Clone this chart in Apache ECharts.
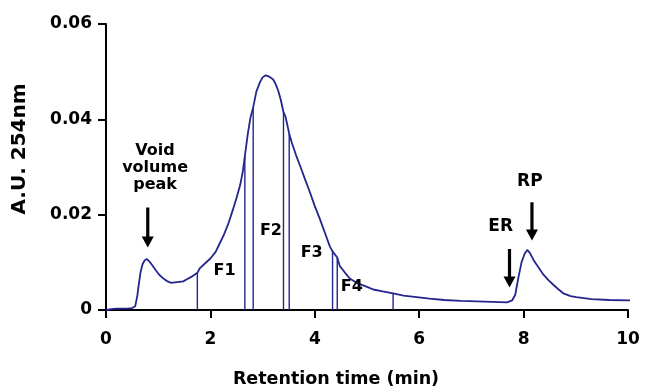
<!DOCTYPE html>
<html>
<head>
<meta charset="utf-8">
<script src="https://cdn.jsdelivr.net/npm/echarts@6/dist/echarts.min.js"></script>
<style>html,body{margin:0;padding:0;background:#fff;}#c{width:648px;height:390px;}</style>
</head>
<body>
<div id="c"></div>
<script>
// Retention time (min)
const timeMin = [0.00,0.10,0.20,0.30,0.40,0.50,0.56,0.60,0.63,0.66,0.70,0.74,0.78,0.82,0.88,0.95,1.02,1.10,1.18,1.25,1.32,1.40,1.48,1.56,1.64,1.75,1.80,1.90,2.00,2.10,2.18,2.26,2.34,2.43,2.50,2.57,2.62,2.66,2.72,2.77,2.82,2.88,2.95,3.00,3.05,3.12,3.20,3.25,3.30,3.35,3.40,3.44,3.51,3.56,3.64,3.72,3.81,3.91,4.00,4.10,4.20,4.29,4.34,4.43,4.48,4.58,4.67,4.80,4.99,5.12,5.30,5.50,5.70,5.95,6.20,6.48,6.80,7.11,7.40,7.68,7.78,7.84,7.90,7.96,8.02,8.07,8.12,8.19,8.28,8.38,8.48,8.57,8.66,8.76,8.90,9.01,9.30,9.64,10.00,10.38];
// Absorbance (A.U. 254 nm)
const absorbance = [0.0000,0.0002,0.0003,0.0003,0.0003,0.0004,0.0008,0.0030,0.0055,0.0078,0.0096,0.0104,0.0107,0.0103,0.0095,0.0084,0.0074,0.0066,0.0060,0.0057,0.0058,0.0059,0.0060,0.0065,0.0070,0.0078,0.0088,0.0098,0.0108,0.0122,0.0140,0.0158,0.0180,0.0210,0.0235,0.0262,0.0290,0.0323,0.0372,0.0405,0.0425,0.0458,0.0478,0.0488,0.0492,0.0490,0.0484,0.0474,0.0460,0.0440,0.0415,0.0405,0.0370,0.0351,0.0325,0.0302,0.0275,0.0246,0.0218,0.0190,0.0160,0.0133,0.0123,0.0110,0.0092,0.0078,0.0066,0.0057,0.0049,0.0043,0.0039,0.0035,0.0030,0.0027,0.0024,0.0021,0.0019,0.0018,0.0017,0.0016,0.0020,0.0032,0.0068,0.0100,0.0118,0.0126,0.0120,0.0105,0.0090,0.0074,0.0062,0.0053,0.0044,0.0035,0.0029,0.0027,0.0023,0.0021,0.0020,0.0021];
// Fraction cut times and the curve height at each cut
const cutTimes = [1.75,2.66,2.82,3.40,3.51,4.34,4.43,5.50];
const cutHeights = [0.0078,0.0323,0.0425,0.0415,0.0370,0.0123,0.0110,0.0035];
// Annotation labels
const labelTexts = ['Void\nvolume\npeak','F1','F2','F3','F4','ER','RP'];
const labelX = [0.94,2.27,3.16,3.94,4.71,7.56,8.12];
const labelY = [0.0299,0.0083,0.0167,0.0119,0.0048,0.0175,0.0270];
// Arrows: time, top, tip
const arrowX = [0.80,7.73,8.16];
const arrowTop = [0.0215,0.0128,0.0226];
const arrowTip = [0.0131,0.0047,0.0146];
// Axis ticks
const xTicks = [0,2,4,6,8,10];
const yTicks = [0,0.02,0.04,0.06];

const FONT = '"DejaVu Sans", "Liberation Sans", Arial, sans-serif';
const BLUE = '#25258f';

const chart = echarts.init(document.getElementById('c'), null, {renderer: 'canvas'});
const curve = timeMin.map((t, i) => [t, absorbance[i]]);
const cuts = cutTimes.map((t, i) => [t, cutHeights[i]]);
const labels = labelTexts.map((s, i) => [labelX[i], labelY[i], s]);
const arrows = arrowX.map((t, i) => [t, arrowTop[i], arrowTip[i]]);

chart.setOption({
  animation: false,
  backgroundColor: '#fff',
  grid: {left: 106, right: 20, top: 24, bottom: 80, containLabel: false},
  xAxis: {
    type: 'value', min: xTicks[0], max: xTicks[xTicks.length - 1], interval: 2,
    axisLine: {lineStyle: {color: '#000', width: 2}},
    axisTick: {length: 8, lineStyle: {color: '#000', width: 2}},
    axisLabel: {margin: 21, color: '#000', fontSize: 17, fontWeight: 'bold', fontFamily: FONT},
    splitLine: {show: false}
  },
  yAxis: {
    type: 'value', min: yTicks[0], max: yTicks[yTicks.length - 1], interval: 0.02,
    axisLine: {show: true, lineStyle: {color: '#000', width: 2}},
    axisTick: {show: true, length: 8, lineStyle: {color: '#000', width: 2}},
    axisLabel: {margin: 14, color: '#000', fontSize: 17, fontWeight: 'bold', fontFamily: FONT,
      formatter: v => v === 0 ? '0' : v.toFixed(2)},
    splitLine: {show: false}
  },
  graphic: [
    {type: 'text', x: 20, y: 149, rotation: Math.PI / 2,
      style: {text: 'A.U. 254nm', fill: '#000', font: 'bold 20px ' + FONT, align: 'center', verticalAlign: 'middle'}},
    {type: 'text', x: 336, y: 379,
      style: {text: 'Retention time (min)', fill: '#000', font: 'bold 17.5px ' + FONT, align: 'center', verticalAlign: 'middle'}}
  ],
  series: [
    {
      type: 'line', data: curve, showSymbol: false, clip: false,
      lineStyle: {color: BLUE, width: 1.8}, z: 3
    },
    {
      type: 'custom', data: cuts, clip: false, z: 3,
      renderItem: (params, api) => {
        const p0 = api.coord([api.value(0), 0]);
        const p1 = api.coord([api.value(0), api.value(1)]);
        return {type: 'line', shape: {x1: p0[0], y1: p0[1], x2: p1[0], y2: p1[1]},
          style: {stroke: BLUE, lineWidth: 1.4}};
      }
    },
    {
      type: 'custom', data: arrows, clip: false, z: 4,
      renderItem: (params, api) => {
        const a = api.coord([api.value(0), api.value(1)]);
        const b = api.coord([api.value(0), api.value(2)]);
        const hh = 11, hw = 6;
        return {type: 'group', children: [
          {type: 'line', shape: {x1: a[0], y1: a[1], x2: b[0], y2: b[1] - hh + 1}, style: {stroke: '#000', lineWidth: 3.2}},
          {type: 'polygon', shape: {points: [[b[0] - hw, b[1] - hh], [b[0] + hw, b[1] - hh], [b[0], b[1]]]}, style: {fill: '#000'}}
        ]};
      }
    },
    {
      type: 'custom', data: labels, clip: false, z: 5,
      dimensions: ['x', 'y', 'text'],
      renderItem: (params, api) => {
        const p = api.coord([api.value(0), api.value(1)]);
        const i = params.dataIndex;
        const txt = labels[i][2];
        const size = i >= 5 ? 17 : 16;
        return {type: 'text', x: p[0], y: p[1],
          style: {text: txt, fill: '#000', font: 'bold ' + size + 'px ' + FONT, align: 'center', verticalAlign: 'middle', lineHeight: 17}};
      }
    }
  ]
});
</script>
</body>
</html>
